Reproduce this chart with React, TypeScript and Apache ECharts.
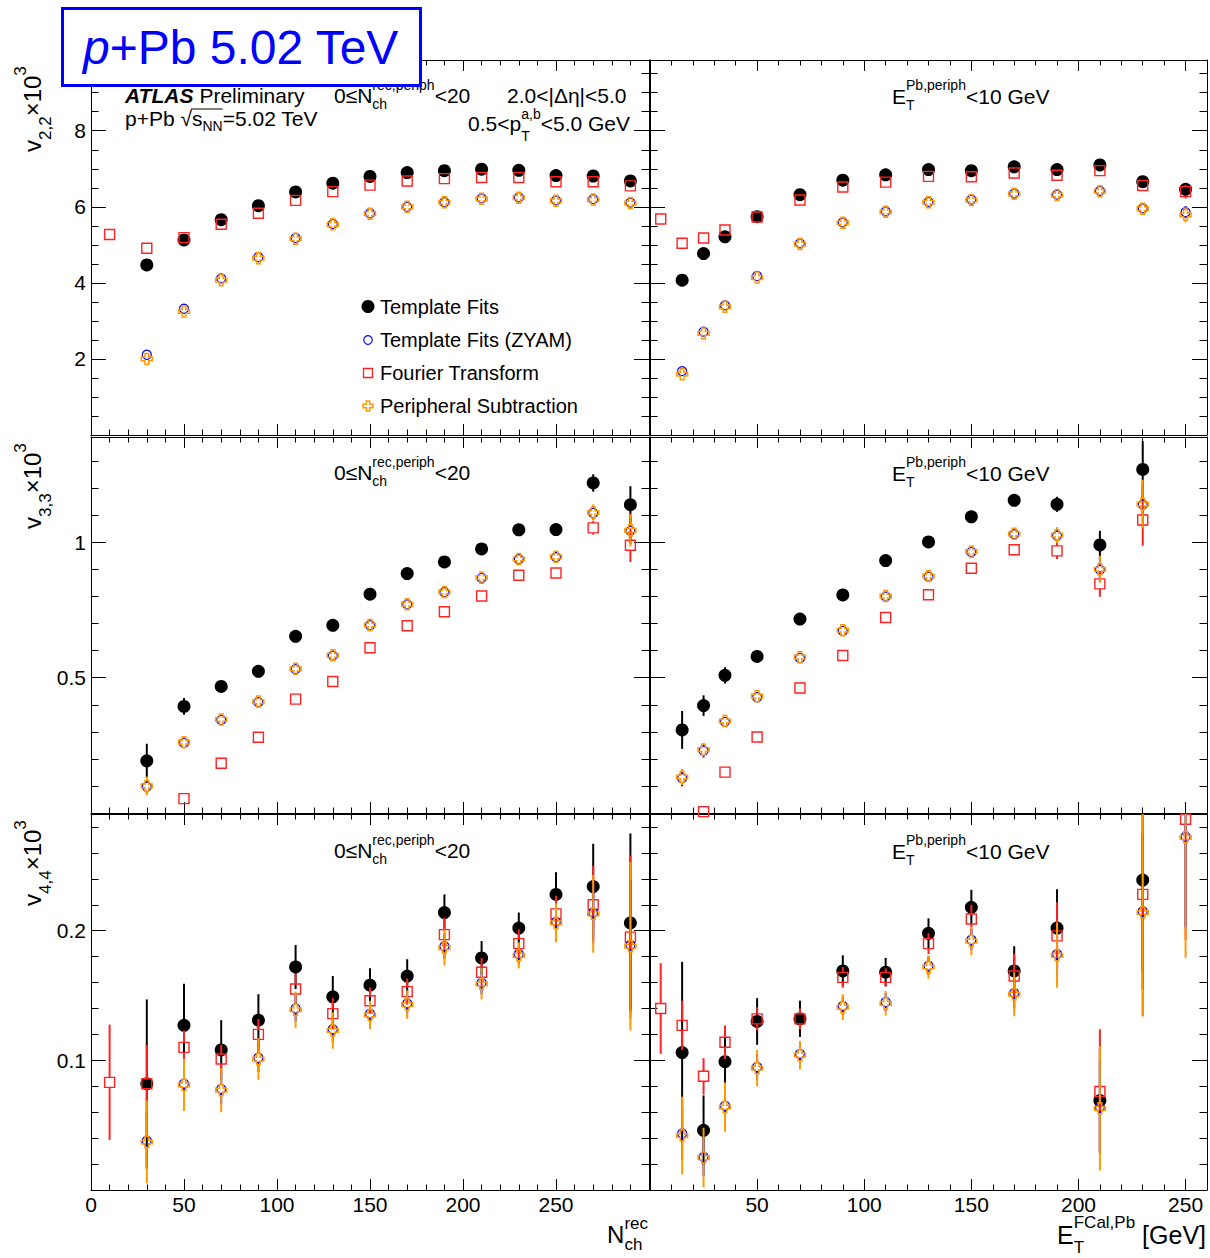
import React, { useEffect, useRef } from "react";
import * as echarts from "echarts";

const FONT = '"Liberation Sans", Arial, Helvetica, sans-serif';
const N = null;

// ---------- x bins ----------
const NCH_X = [10, 30, 50, 70, 90, 110, 130, 150, 170, 190, 210, 230, 250, 270, 290];
const ET_X = [5, 15, 25, 35, 50, 70, 90, 110, 130, 150, 170, 190, 210, 230, 250];

// ---------- v2,2 x10^3 vs Nch ----------
const V22_NCH_TF = [N, 4.47, 5.13, 5.66, 6.03, 6.39, 6.62, 6.8, 6.9, 6.95, 6.99, 6.96, 6.82, 6.81, 6.68];
const V22_NCH_FT = [5.27, 4.91, 5.19, 5.54, 5.83, 6.17, 6.4, 6.57, 6.68, 6.74, 6.77, 6.77, 6.66, 6.66, 6.55];
const V22_NCH_ZYAM = [N, 2.11, 3.32, 4.12, 4.68, 5.18, 5.55, 5.83, 6.0, 6.12, 6.22, 6.25, 6.17, 6.2, 6.11];
const V22_NCH_PS = [N, 2.0, 3.25, 4.07, 4.65, 5.16, 5.54, 5.82, 6.0, 6.12, 6.21, 6.24, 6.16, 6.19, 6.1];
const V22_NCH_ERR = [0, 0.05, 0.05, 0.04, 0.04, 0.04, 0.04, 0.04, 0.04, 0.04, 0.04, 0.04, 0.05, 0.05, 0.06];

// ---------- v2,2 x10^3 vs ET ----------
const V22_ET_TF = [N, 4.07, 4.77, 5.21, 5.74, 6.32, 6.7, 6.84, 6.98, 6.95, 7.05, 6.98, 7.1, 6.66, 6.46];
const V22_ET_TF_E = [0, 0.05, 0.05, 0.05, 0.04, 0.04, 0.04, 0.04, 0.04, 0.05, 0.05, 0.05, 0.06, 0.08, 0.16];
const V22_ET_FT = [5.68, 5.04, 5.18, 5.39, 5.73, 6.18, 6.52, 6.65, 6.8, 6.79, 6.89, 6.83, 6.95, 6.56, 6.4];
const V22_ET_FT_E = [0.05, 0.05, 0.05, 0.05, 0.04, 0.04, 0.04, 0.04, 0.04, 0.05, 0.05, 0.05, 0.06, 0.08, 0.18];
const V22_ET_ZYAM = [N, 1.68, 2.72, 3.41, 4.18, 5.04, 5.59, 5.88, 6.13, 6.19, 6.35, 6.32, 6.42, 5.96, 5.86];
const V22_ET_ZYAM_E = [0, 0.05, 0.05, 0.05, 0.04, 0.04, 0.04, 0.04, 0.04, 0.05, 0.05, 0.05, 0.06, 0.08, 0.16];
const V22_ET_PS = [N, 1.6, 2.67, 3.37, 4.14, 5.02, 5.58, 5.87, 6.12, 6.18, 6.34, 6.31, 6.41, 5.95, 5.79];
const V22_ET_PS_E = [0, 0.06, 0.06, 0.05, 0.05, 0.04, 0.04, 0.04, 0.04, 0.05, 0.05, 0.05, 0.06, 0.08, 0.2];

// ---------- v3,3 x10^3 vs Nch ----------
const V33_NCH_TF = [N, 0.193, 0.394, 0.468, 0.524, 0.653, 0.694, 0.809, 0.885, 0.928, 0.976, 1.047, 1.048, 1.22, 1.14];
const V33_NCH_TF_E = [0, 0.063, 0.031, 0.012, 0.01, 0.01, 0.01, 0.01, 0.01, 0.01, 0.012, 0.012, 0.014, 0.032, 0.068];
const V33_NCH_FT = [N, N, 0.053, 0.184, 0.28, 0.421, 0.486, 0.611, 0.692, 0.744, 0.802, 0.879, 0.887, 1.054, 0.99];
const V33_NCH_FT_E = [0, 0, 0.008, 0.007, 0.007, 0.007, 0.007, 0.007, 0.008, 0.008, 0.009, 0.01, 0.012, 0.025, 0.062];
const V33_NCH_ZYAM = [N, 0.097, 0.259, 0.344, 0.41, 0.532, 0.582, 0.694, 0.771, 0.816, 0.869, 0.938, 0.946, 1.109, 1.043];
const V33_NCH_ZYAM_E = [0, 0.025, 0.016, 0.009, 0.007, 0.007, 0.007, 0.007, 0.008, 0.008, 0.009, 0.01, 0.012, 0.026, 0.05];
const V33_NCH_PS = [N, 0.1, 0.262, 0.346, 0.412, 0.533, 0.583, 0.695, 0.772, 0.817, 0.87, 0.939, 0.947, 1.111, 1.045];
const V33_NCH_PS_E = [0, 0.035, 0.019, 0.011, 0.009, 0.008, 0.008, 0.008, 0.009, 0.009, 0.01, 0.011, 0.013, 0.03, 0.06];

// ---------- v3,3 x10^3 vs ET ----------
const V33_ET_TF = [N, 0.307, 0.397, 0.509, 0.579, 0.717, 0.806, 0.933, 1.002, 1.095, 1.156, 1.141, 0.991, 1.27, N];
const V33_ET_TF_E = [0, 0.07, 0.038, 0.03, 0.012, 0.01, 0.01, 0.01, 0.01, 0.012, 0.012, 0.028, 0.052, 0.105, 0];
const V33_ET_FT = [N, N, 0.005, 0.151, 0.281, 0.462, 0.582, 0.723, 0.807, 0.905, 0.973, 0.969, 0.847, 1.083, N];
const V33_ET_FT_E = [0, 0, 0.01, 0.01, 0.01, 0.008, 0.008, 0.008, 0.008, 0.01, 0.012, 0.03, 0.048, 0.095, 0];
const V33_ET_ZYAM = [N, 0.129, 0.23, 0.337, 0.428, 0.573, 0.673, 0.8, 0.874, 0.965, 1.031, 1.025, 0.899, 1.14, N];
const V33_ET_ZYAM_E = [0, 0.03, 0.025, 0.015, 0.012, 0.008, 0.008, 0.008, 0.008, 0.01, 0.012, 0.028, 0.045, 0.08, 0];
const V33_ET_PS = [N, 0.133, 0.234, 0.34, 0.432, 0.576, 0.676, 0.802, 0.876, 0.966, 1.032, 1.027, 0.901, 1.142, N];
const V33_ET_PS_E = [0, 0.03, 0.025, 0.018, 0.015, 0.01, 0.01, 0.01, 0.01, 0.012, 0.012, 0.03, 0.05, 0.09, 0];

// ---------- v4,4 x10^3 vs Nch ----------
const V44_NCH_TF = [N, 0.082, 0.127, 0.108, 0.131, 0.172, 0.149, 0.158, 0.165, 0.214, 0.179, 0.202, 0.228, 0.234, 0.206];
const V44_NCH_TF_E = [0, 0.065, 0.032, 0.023, 0.02, 0.017, 0.016, 0.013, 0.013, 0.014, 0.013, 0.012, 0.017, 0.033, 0.069];
const V44_NCH_FT = [0.083, 0.082, 0.11, 0.101, 0.12, 0.155, 0.136, 0.146, 0.153, 0.197, 0.168, 0.19, 0.213, 0.22, 0.195];
const V44_NCH_FT_E = [0.0445, 0.03, 0.013, 0.011, 0.012, 0.012, 0.012, 0.01, 0.01, 0.013, 0.011, 0.011, 0.014, 0.03, 0.063];
const V44_NCH_ZYAM = [N, 0.038, 0.082, 0.078, 0.102, 0.14, 0.124, 0.136, 0.144, 0.188, 0.16, 0.182, 0.207, 0.214, 0.189];
const V44_NCH_ZYAM_E = [0, 0.022, 0.014, 0.012, 0.011, 0.01, 0.01, 0.008, 0.008, 0.01, 0.009, 0.008, 0.011, 0.022, 0.05];
const V44_NCH_PS = [N, 0.037, 0.081, 0.077, 0.101, 0.139, 0.123, 0.135, 0.143, 0.187, 0.159, 0.181, 0.206, 0.213, 0.188];
const V44_NCH_PS_E = [0, 0.032, 0.02, 0.017, 0.016, 0.014, 0.014, 0.011, 0.011, 0.014, 0.012, 0.01, 0.015, 0.03, 0.065];

// ---------- v4,4 x10^3 vs ET ----------
const V44_ET_TF = [N, 0.106, 0.046, 0.099, 0.13, 0.132, 0.169, 0.168, 0.198, 0.218, 0.169, 0.202, 0.069, 0.239, N];
const V44_ET_TF_E = [0, 0.07, 0.027, 0.02, 0.018, 0.014, 0.012, 0.011, 0.0115, 0.0135, 0.019, 0.03, 0.04, 0.07, 0];
const V44_ET_FT = [0.14, 0.127, 0.0877, 0.114, 0.132, 0.132, 0.164, 0.164, 0.19, 0.209, 0.165, 0.196, 0.076, 0.228, 0.286];
const V44_ET_FT_E = [0.035, 0.019, 0.014, 0.013, 0.009, 0.008, 0.008, 0.007, 0.008, 0.011, 0.017, 0.026, 0.048, 0.094, 0.093];
const V44_ET_ZYAM = [N, 0.0436, 0.0256, 0.065, 0.095, 0.105, 0.142, 0.145, 0.173, 0.193, 0.152, 0.182, 0.064, 0.215, 0.2726];
const V44_ET_ZYAM_E = [0, 0.02, 0.015, 0.013, 0.01, 0.008, 0.007, 0.007, 0.007, 0.008, 0.012, 0.018, 0.035, 0.06, 0.07];
const V44_ET_PS = [N, 0.042, 0.025, 0.064, 0.094, 0.104, 0.141, 0.144, 0.172, 0.192, 0.151, 0.181, 0.063, 0.214, 0.272];
const V44_ET_PS_E = [0, 0.03, 0.023, 0.019, 0.014, 0.011, 0.01, 0.0095, 0.009, 0.011, 0.017, 0.025, 0.048, 0.08, 0.093];

// ---------- axes ----------
const X_LABELS_NCH = [0, 50, 100, 150, 200, 250];
const X_LABELS_ET = [50, 100, 150, 200, 250];
const Y_LABELS = [[2, 4, 6, 8], [0.5, 1], [0.1, 0.2]];
const Y_RANGES = [[0, 9.86], [0, 1.39], [0, 0.29]];
const Y_MAJOR = [2, 0.5, 0.1];
const Y_MINOR = [0.5, 0.1, 0.02];
const X_RANGES = [[0, 300], [0, 260]];

const LEGEND_NAMES = ["Template Fits", "Template Fits (ZYAM)", "Fourier Transform", "Peripheral Subtraction"];

// layout (pixels)
const COL_L = [91, 650];
const COL_R = [649, 1207];
const ROW_T = [60, 437, 814];
const ROW_B = [435, 813, 1190];

const C_BLACK = "#000000";
const C_RED = "#ff2222";
const C_BLUE = "#0000ff";
const C_ORANGE = "#ff9900";
const CROSS = "path://M-1,-3L1,-3L1,-1L3,-1L3,1L1,1L1,3L-1,3L-1,1L-3,1L-3,-1L-1,-1Z";

const METHODS = [
  { key: "tf", color: C_BLACK, symbol: "circle", size: 13, filled: true, bw: 0, gap: 6 },
  { key: "ft", color: C_RED, symbol: "rect", size: 10, filled: false, bw: 1.4, gap: 5 },
  { key: "zyam", color: C_BLUE, symbol: "circle", size: 9, filled: false, bw: 1.2, gap: 4.5 },
  { key: "ps", color: C_ORANGE, symbol: CROSS, size: 11, filled: false, bw: 1.5, gap: 5.5 },
];

const PANELS = [
  { row: 0, col: 0, xs: NCH_X, d: { tf: [V22_NCH_TF, V22_NCH_ERR], ft: [V22_NCH_FT, V22_NCH_ERR], zyam: [V22_NCH_ZYAM, V22_NCH_ERR], ps: [V22_NCH_PS, V22_NCH_ERR] } },
  { row: 0, col: 1, xs: ET_X, d: { tf: [V22_ET_TF, V22_ET_TF_E], ft: [V22_ET_FT, V22_ET_FT_E], zyam: [V22_ET_ZYAM, V22_ET_ZYAM_E], ps: [V22_ET_PS, V22_ET_PS_E] } },
  { row: 1, col: 0, xs: NCH_X, d: { tf: [V33_NCH_TF, V33_NCH_TF_E], ft: [V33_NCH_FT, V33_NCH_FT_E], zyam: [V33_NCH_ZYAM, V33_NCH_ZYAM_E], ps: [V33_NCH_PS, V33_NCH_PS_E] } },
  { row: 1, col: 1, xs: ET_X, d: { tf: [V33_ET_TF, V33_ET_TF_E], ft: [V33_ET_FT, V33_ET_FT_E], zyam: [V33_ET_ZYAM, V33_ET_ZYAM_E], ps: [V33_ET_PS, V33_ET_PS_E] } },
  { row: 2, col: 0, xs: NCH_X, d: { tf: [V44_NCH_TF, V44_NCH_TF_E], ft: [V44_NCH_FT, V44_NCH_FT_E], zyam: [V44_NCH_ZYAM, V44_NCH_ZYAM_E], ps: [V44_NCH_PS, V44_NCH_PS_E] } },
  { row: 2, col: 1, xs: ET_X, d: { tf: [V44_ET_TF, V44_ET_TF_E], ft: [V44_ET_FT, V44_ET_FT_E], zyam: [V44_ET_ZYAM, V44_ET_ZYAM_E], ps: [V44_ET_PS, V44_ET_PS_E] } },
];

// ---------- text helpers ----------
let _ctx: any = null;
function tw(text: string, font: string): number {
  if (!_ctx) _ctx = document.createElement("canvas").getContext("2d");
  _ctx.font = font;
  return _ctx.measureText(text).width;
}
function fnt(size: number, style = ""): string {
  return `${style} ${size}px ${FONT}`.trim();
}
function txt(x: number, y: number, text: string, font: string, fill: string, z = 10) {
  return {
    type: "text",
    x,
    y,
    z,
    style: { text, font, fill, textAlign: "left", textVerticalAlign: "middle", verticalAlign: "middle" },
  };
}
type Seg = { t?: string; sub?: string; sup?: string; style?: string };
function mathRun(segs: Seg[], size: number, subSize: number, color: string, supDy: number, subDy: number) {
  let x = 0;
  const els: any[] = [];
  for (const s of segs) {
    if (s.t) {
      const f = fnt(size, s.style || "");
      els.push(txt(x, 0, s.t, f, color));
      x += tw(s.t, f);
    }
    if (s.sub || s.sup) {
      const f = fnt(subSize);
      let w = 0;
      if (s.sup) {
        els.push(txt(x, supDy, s.sup, f, color));
        w = Math.max(w, tw(s.sup, f));
      }
      if (s.sub) {
        els.push(txt(x, subDy, s.sub, f, color));
        w = Math.max(w, tw(s.sub, f));
      }
      x += w;
    }
  }
  return { els, width: x };
}
function mathAt(x: number, y: number, segs: Seg[], size: number, subSize: number, supDy: number, subDy: number, align = "left", color = "#000") {
  const r = mathRun(segs, size, subSize, color, supDy, subDy);
  const gx = align === "right" ? x - r.width : x;
  return { type: "group", x: gx, y, children: r.els, z: 10 };
}

function labelFmt(list: number[]) {
  return (v: number) => {
    const hit = list.find((l) => Math.abs(l - v) < 1e-7);
    return hit === undefined ? "" : String(hit);
  };
}

function buildOption() {
  const grid: any[] = [];
  const xAxis: any[] = [];
  const yAxis: any[] = [];
  const series: any[] = [];

  PANELS.forEach((p, g) => {
    const left = COL_L[p.col];
    const top = ROW_T[p.row];
    grid.push({ left, top, width: COL_R[p.col] - left, height: ROW_B[p.row] - top, containLabel: false });

    const [xmin, xmax] = X_RANGES[p.col];
    const [ymin, ymax] = Y_RANGES[p.row];
    const line = { show: true, onZero: false, lineStyle: { color: "#000", width: 1 } };
    const noLine = { show: false, onZero: false };
    const xb = { type: "value", gridIndex: g, min: xmin, max: xmax, splitLine: { show: false }, axisPointer: { show: false } };
    const yb = { type: "value", gridIndex: g, min: ymin, max: ymax, splitLine: { show: false }, axisPointer: { show: false } };
    const tick = (len: number) => ({ show: true, inside: true, length: len, lineStyle: { color: "#000", width: 1 } });
    const xLabels = p.col === 0 ? X_LABELS_NCH : X_LABELS_ET;

    xAxis.push(
      {
        ...xb, position: "bottom", interval: 50, axisLine: line, axisTick: tick(11),
        axisLabel: { show: p.row === 2, formatter: labelFmt(xLabels), fontSize: 21, fontFamily: FONT, color: "#000", margin: 4, showMinLabel: true, showMaxLabel: true },
      },
      { ...xb, position: "bottom", interval: 10, axisLine: noLine, axisTick: tick(5.5), axisLabel: { show: false } },
      { ...xb, position: "top", interval: 50, axisLine: line, axisTick: tick(11), axisLabel: { show: false } },
      { ...xb, position: "top", interval: 10, axisLine: noLine, axisTick: tick(5.5), axisLabel: { show: false } }
    );
    yAxis.push(
      {
        ...yb, position: "left", interval: Y_MAJOR[p.row], axisLine: line, axisTick: tick(15),
        axisLabel: { show: p.col === 0, formatter: labelFmt(Y_LABELS[p.row]), fontSize: 21, fontFamily: FONT, color: "#000", margin: 5, showMinLabel: true, showMaxLabel: true },
      },
      { ...yb, position: "left", interval: Y_MINOR[p.row], axisLine: noLine, axisTick: tick(7.5), axisLabel: { show: false } },
      { ...yb, position: "right", interval: Y_MAJOR[p.row], axisLine: line, axisTick: tick(15), axisLabel: { show: false } },
      { ...yb, position: "right", interval: Y_MINOR[p.row], axisLine: noLine, axisTick: tick(7.5), axisLabel: { show: false } }
    );

    METHODS.forEach((m, mi) => {
      const [vals, errs] = (p.d as any)[m.key] as [(number | null)[], number[]];
      const pts: number[][] = [];
      const ebs: number[][] = [];
      p.xs.forEach((x, i) => {
        const v = vals[i];
        if (v === null || v === undefined) return;
        pts.push([x, v]);
        if (errs[i] > 0) ebs.push([x, v, errs[i]]);
      });
      const zb = 3 + mi * 2;
      series.push({
        type: "custom",
        xAxisIndex: 4 * g,
        yAxisIndex: 4 * g,
        data: ebs,
        z: zb,
        silent: true,
        encode: { x: 0, y: 1 },
        renderItem: (_params: any, api: any) => {
          const x = api.value(0);
          const y = api.value(1);
          const e = api.value(2);
          const lo = Math.max(y - e, ymin);
          const hi = Math.min(y + e, ymax);
          const pc = api.coord([x, y]);
          const pl = api.coord([x, lo]);
          const ph = api.coord([x, hi]);
          const children: any[] = [];
          const t = pc[1] - m.gap;
          const b = pc[1] + m.gap;
          const st = { stroke: m.color, lineWidth: 2 };
          if (ph[1] < t) children.push({ type: "line", shape: { x1: pc[0], y1: ph[1], x2: pc[0], y2: Math.min(t, pl[1]) }, style: st });
          if (pl[1] > b) children.push({ type: "line", shape: { x1: pc[0], y1: Math.max(b, ph[1]), x2: pc[0], y2: pl[1] }, style: st });
          return { type: "group", children };
        },
      });
      series.push({
        type: "scatter",
        xAxisIndex: 4 * g,
        yAxisIndex: 4 * g,
        data: pts,
        symbol: m.symbol,
        symbolSize: m.size,
        z: zb + 1,
        silent: true,
        clip: true,
        emphasis: { disabled: true },
        itemStyle: m.filled
          ? { color: m.color, opacity: 1 }
          : { color: "rgba(0,0,0,0)", borderColor: m.color, borderWidth: m.bw, opacity: 1 },
      });
    });
  });

  // ---------- graphic texts ----------
  const G: any[] = [];
  const F21 = fnt(21);
  const FB = fnt(21, "italic bold");
  G.push({ type: "group", x: 125, y: 95, children: [txt(0, 0, "ATLAS", FB, "#000"), txt(tw("ATLAS", FB) + 6, 0, "Preliminary", F21, "#000")] });
  G.push(txt(507, 95, "2.0<|Δη|<5.0", F21, "#000"));
  {
    const pre = "p+Pb ";
    const wPre = tw(pre, F21);
    const wSq = tw("√", F21);
    const wS = tw("s", F21);
    const wNN = tw("NN", fnt(14));
    const children = [
      txt(0, 0, pre, F21, "#000"),
      txt(wPre, 0, "√", F21, "#000"),
      txt(wPre + wSq, 0, "s", F21, "#000"),
      txt(wPre + wSq + wS, 8, "NN", fnt(14), "#000"),
      txt(wPre + wSq + wS + wNN, 0, "=5.02 TeV", F21, "#000"),
      { type: "line", z: 10, shape: { x1: wPre + wSq - 1, y1: -9, x2: wPre + wSq + wS + wNN, y2: -9 }, style: { stroke: "#000", lineWidth: 1 } },
    ];
    G.push({ type: "group", x: 125, y: 118, children });
  }
  G.push(mathAt(630, 123, [{ t: "0.5<p", sub: "T", sup: "a,b" }, { t: "<5.0 GeV" }], 21, 14, -9, 13, "right"));

  const nchLbl: Seg[] = [{ t: "0≤N", sub: "ch", sup: "rec,periph" }, { t: "<20" }];
  const etLbl: Seg[] = [{ t: "E", sub: "T", sup: "Pb,periph" }, { t: "<10 GeV" }];
  [95, 472, 850].forEach((y) => {
    G.push(mathAt(334, y, nchLbl, 21, 14, -10, 9));
    G.push(mathAt(892, y + 1, etLbl, 21, 14, -11, 9));
  });

  // legend
  const legY = [306.5, 340, 373, 406];
  G.push({ type: "circle", z: 10, shape: { cx: 368, cy: legY[0], r: 6.5 }, style: { fill: C_BLACK } });
  G.push({ type: "circle", z: 10, shape: { cx: 368, cy: legY[1], r: 4.3 }, style: { fill: "none", stroke: C_BLUE, lineWidth: 1.2 } });
  G.push({ type: "rect", z: 10, shape: { x: 363.5, y: legY[2] - 4.5, width: 9, height: 9 }, style: { fill: "none", stroke: C_RED, lineWidth: 1.3 } });
  {
    const cx = 368, cy = legY[3], h = 5, a = 5 / 3;
    const pts = [
      [cx - a, cy - h], [cx + a, cy - h], [cx + a, cy - a], [cx + h, cy - a], [cx + h, cy + a], [cx + a, cy + a],
      [cx + a, cy + h], [cx - a, cy + h], [cx - a, cy + a], [cx - h, cy + a], [cx - h, cy - a], [cx - a, cy - a],
    ];
    G.push({ type: "polygon", z: 10, shape: { points: pts }, style: { fill: "none", stroke: C_ORANGE, lineWidth: 1.5 } });
  }
  LEGEND_NAMES.forEach((name, i) => {
    G.push(txt(380, legY[i], name, fnt(20), "#000"));
  });

  // y titles (rotated)
  const yTitles: Seg[][] = [
    [{ t: "v", sub: "2,2" }, { t: "×10", sup: "3" }],
    [{ t: "v", sub: "3,3" }, { t: "×10", sup: "3" }],
    [{ t: "v", sub: "4,4" }, { t: "×10", sup: "3" }],
  ];
  [152, 529, 906].forEach((y, i) => {
    const r = mathRun(yTitles[i], 24, 17, "#000", -12, 13);
    G.push({ type: "group", x: 32, y, rotation: Math.PI / 2, children: r.els });
  });

  // x titles
  G.push(mathAt(648, 1234, [{ t: "N", sub: "ch", sup: "rec" }], 24, 17, -11, 10, "right"));
  G.push(mathAt(1206, 1235, [{ t: "E", sub: "T", sup: "FCal,Pb" }, { t: " [GeV]" }], 25, 17, -13, 12, "right"));

  // title box
  G.push({ type: "rect", z: 50, shape: { x: 62.5, y: 8.5, width: 358, height: 77 }, style: { fill: "#fff", stroke: C_BLUE, lineWidth: 3 } });
  {
    const fi = fnt(48, "italic");
    const wp = tw("p", fi);
    G.push({ type: "group", x: 83, y: 47, children: [txt(0, 0, "p", fi, C_BLUE, 60), txt(wp, 0, "+Pb 5.02 TeV", fnt(48), C_BLUE, 60)] });
  }

  return {
    animation: false,
    backgroundColor: "#ffffff",
    grid,
    xAxis,
    yAxis,
    series,
    graphic: { elements: G },
  };
}

export default function App() {
  const ref = useRef<HTMLDivElement>(null);
  useEffect(() => {
    if (!ref.current) return;
    const chart = echarts.init(ref.current, undefined, { renderer: "svg" });
    chart.setOption(buildOption() as any);
    return () => chart.dispose();
  }, []);
  return <div ref={ref} style={{ position: "absolute", left: 0, top: 0, width: 1210, height: 1258, background: "#fff" }} />;
}
